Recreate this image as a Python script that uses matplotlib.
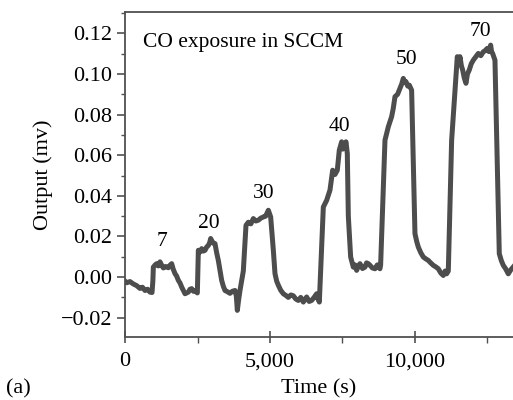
import matplotlib.pyplot as plt
from matplotlib.ticker import MultipleLocator, FuncFormatter

# CO response trace
time_s = [0, 59, 170, 287, 400, 517, 600, 690, 780, 862, 931, 960,
          977, 1040, 1092, 1150, 1207, 1265, 1322, 1400, 1494, 1550, 1609, 1660,
          1724, 1780, 1839, 1900, 1954, 2010, 2069, 2130, 2184, 2240, 2299, 2360,
          2414, 2494, 2529, 2590, 2644, 2700, 2759, 2815, 2874, 2920, 2954, 3030,
          3103, 3160, 3218, 3280, 3333, 3390, 3448, 3530, 3620, 3700, 3793, 3840,
          3873, 3920, 3965, 4080, 4172, 4253, 4340, 4425, 4510, 4598, 4680, 4770,
          4850, 4943, 5023, 5115, 5172, 5230, 5287, 5370, 5460, 5545, 5632, 5720,
          5804, 5890, 5977, 6060, 6149, 6200, 6264, 6350, 6436, 6520, 6609, 6650,
          6701, 6839, 6954, 7068, 7161, 7241, 7321, 7390, 7471, 7510, 7551, 7620,
          7666, 7701, 7781, 7873, 7930, 7988, 8050, 8103, 8190, 8275, 8330, 8390,
          8448, 8530, 8620, 8700, 8792, 8815, 8965, 9080, 9195, 9250, 9310, 9400,
          9482, 9540, 9597, 9640, 9689, 9750, 9804, 9884, 9999, 10060, 10114, 10200,
          10286, 10370, 10459, 10540, 10631, 10720, 10804, 10890, 10976, 11040, 11091, 11149,
          11264, 11459, 11510, 11551, 11600, 11643, 11700, 11758, 11810, 11873, 11940, 12011,
          12100, 12183, 12270, 12355, 12420, 12493, 12550, 12609, 12640, 12677, 12758, 12907,
          12980, 13045, 13130, 13217, 13300, 13390]
output_mv = [-0.0020, -0.0028, -0.0022, -0.0034, -0.0042, -0.0056, -0.0050, -0.0066, -0.0060, -0.0074, -0.0076, -0.0020,
             0.0049, 0.0060, 0.0066, 0.0055, 0.0075, 0.0058, 0.0045, 0.0052, 0.0046, 0.0058, 0.0066, 0.0040,
             0.0017, 0.0005, -0.0016, -0.0030, -0.0049, -0.0065, -0.0082, -0.0078, -0.0074, -0.0060, -0.0057, -0.0070,
             -0.0066, -0.0078, 0.0132, 0.0124, 0.0140, 0.0128, 0.0132, 0.0148, 0.0156, 0.0170, 0.0190, 0.0168,
             0.0165, 0.0120, 0.0082, 0.0030, -0.0016, -0.0045, -0.0066, -0.0072, -0.0080, -0.0070, -0.0066, -0.0095,
             -0.0164, -0.0110, -0.0066, 0.0030, 0.0255, 0.0270, 0.0262, 0.0288, 0.0276, 0.0280, 0.0290, 0.0296,
             0.0300, 0.0329, 0.0296, 0.0132, 0.0017, -0.0020, -0.0040, -0.0065, -0.0082, -0.0090, -0.0100, -0.0088,
             -0.0092, -0.0108, -0.0115, -0.0100, -0.0123, -0.0110, -0.0098, -0.0120, -0.0115, -0.0100, -0.0082, -0.0105,
             -0.0123, 0.0345, 0.0378, 0.0428, 0.0526, 0.0505, 0.0526, 0.0625, 0.0666, 0.0630, 0.0640, 0.0666,
             0.0608, 0.0300, 0.0099, 0.0049, 0.0060, 0.0033, 0.0055, 0.0066, 0.0042, 0.0049, 0.0070, 0.0066,
             0.0058, 0.0045, 0.0041, 0.0060, 0.0041, 0.0060, 0.0674, 0.0740, 0.0790, 0.0830, 0.0888, 0.0900,
             0.0929, 0.0950, 0.0978, 0.0960, 0.0962, 0.0940, 0.0945, 0.0920, 0.0214, 0.0175, 0.0148, 0.0120,
             0.0099, 0.0090, 0.0082, 0.0070, 0.0058, 0.0050, 0.0041, 0.0020, 0.0008, 0.0030, 0.0016, 0.0030,
             0.0674, 0.1085, 0.1050, 0.1085, 0.1040, 0.1020, 0.0980, 0.0954, 0.1000, 0.1020, 0.1050, 0.1068,
             0.1085, 0.1101, 0.1090, 0.1109, 0.1115, 0.1126, 0.1110, 0.1142, 0.1110, 0.1101, 0.1068, 0.0115,
             0.0080, 0.0058, 0.0040, 0.0016, 0.0035, 0.0050]

# peak annotations (flow in SCCM)
flow_labels = ['7', '20', '30', '40', '50', '70']
label_time = [1276, 2900, 4793, 7390, 9690, 12240]
label_value = [0.0173, 0.0266, 0.0411, 0.0743, 0.107, 0.121]

plt.rcParams['font.family'] = ['Liberation Serif', 'DejaVu Serif']
plt.rcParams['font.size'] = 16

fig = plt.figure(figsize=(5.13, 4.0), dpi=100)
ax = fig.add_axes([0.2437, 0.158, 0.7563, 0.812])

ax.plot(time_s, output_mv, color='#4d4d4d', lw=3.6, solid_joinstyle='round')

for lab, t, v in zip(flow_labels, label_time, label_value):
    ax.text(t, v, lab, ha='center', va='center', fontsize=15.5)
ax.text(632, 0.1154, 'CO exposure in SCCM', ha='left', va='center', fontsize=15.5)

ax.set_xlim(0, 13380)
ax.set_ylim(-0.0294, 0.1305)
ax.xaxis.set_major_locator(MultipleLocator(5000))
ax.xaxis.set_minor_locator(MultipleLocator(2500))
ax.yaxis.set_major_locator(MultipleLocator(0.02))
ax.yaxis.set_minor_locator(MultipleLocator(0.01))
ax.xaxis.set_major_formatter(FuncFormatter(lambda x, p: f'{int(x):,}'))
ax.yaxis.set_major_formatter(FuncFormatter(
    lambda y, p: ('\u2212' if y < -1e-9 else '') + f'{abs(y):.2f}'))

ax.spines['right'].set_visible(False)
for s in ['left', 'bottom', 'top']:
    ax.spines[s].set_color('#505050')
    ax.spines[s].set_linewidth(1.3)
ax.tick_params(axis='x', which='major', direction='inout', length=8, width=1.2,
               color='#505050', pad=7)
ax.tick_params(axis='x', which='minor', direction='out', length=4, width=1.0,
               color='#505050')
ax.tick_params(axis='y', which='major', direction='out', length=6, width=1.2,
               color='#505050', pad=3)
ax.tick_params(axis='y', which='minor', direction='out', length=3, width=1.0,
               color='#505050')

ax.set_xlabel('Time (s)', labelpad=6)
ax.set_ylabel('Output (mv)', labelpad=6)
fig.text(0.012, 0.005, '(a)', ha='left', va='bottom', fontsize=16)

fig.savefig('out.png', dpi=100)
